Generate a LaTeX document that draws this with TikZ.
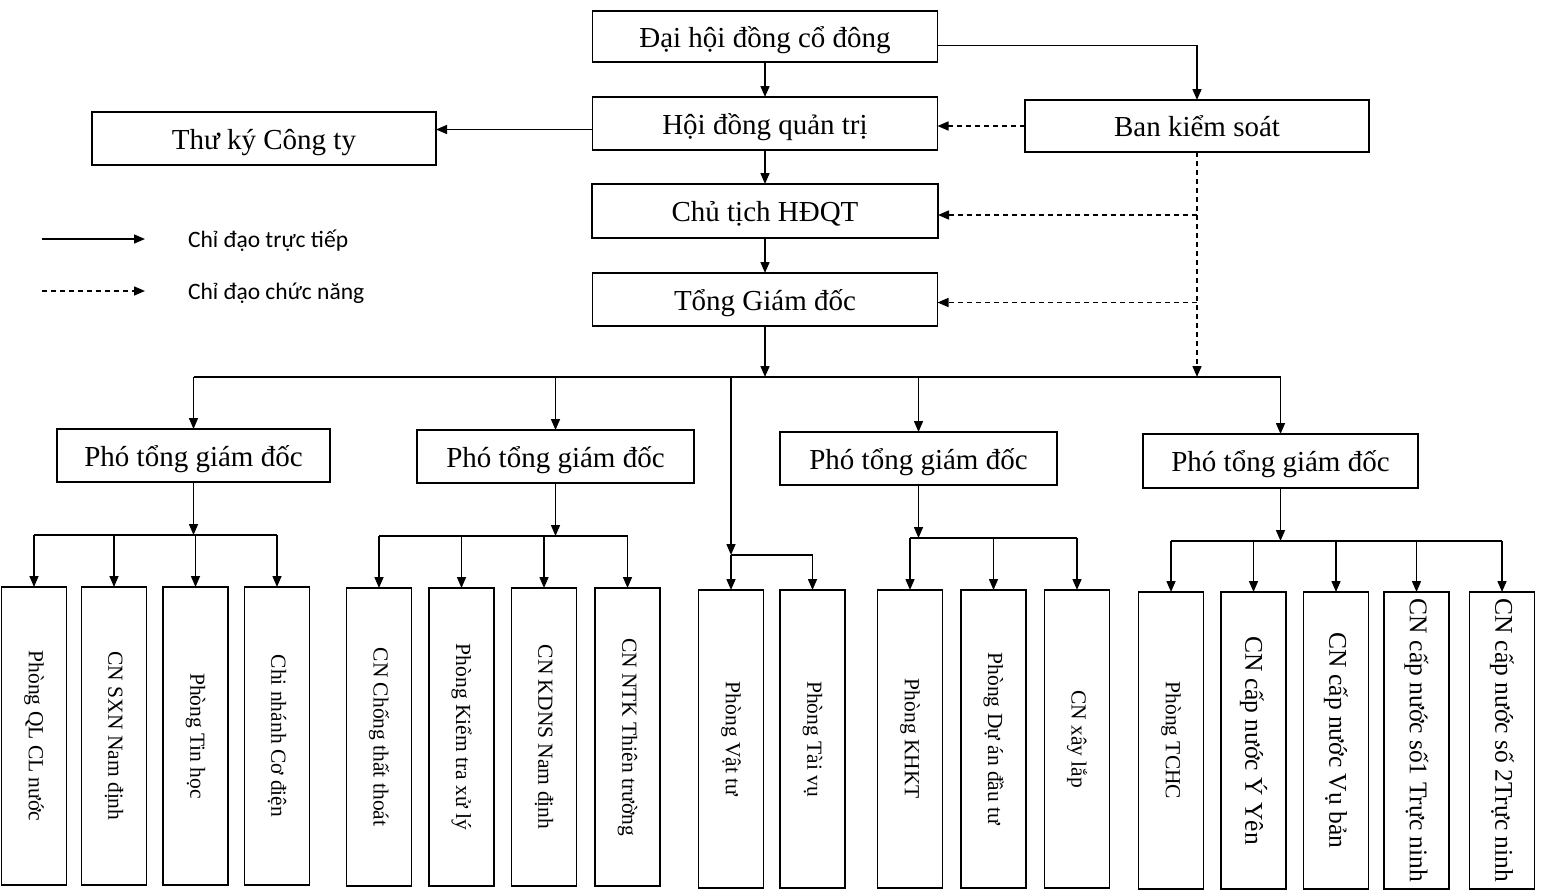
\documentclass[tikz,border=0pt]{standalone}
\usepackage{fontspec}
\usepackage{graphicx}
\setmainfont{Liberation Serif}
\newfontfamily\legendfont{Carlito}
\usetikzlibrary{arrows.meta}
\begin{document}
\begin{tikzpicture}[x=1pt,y=-1pt,
  every node/.style={inner sep=0pt, outer sep=0pt},
  hbox/.style={draw, line width=1.5pt, minimum height=53pt, text height=27pt, text depth=6pt, font=\fontsize{29}{33}\selectfont},
  vbox/.style={draw, line width=1.5pt, minimum width=65pt, minimum height=298pt, font=\fontsize{21.5}{25}\selectfont},
  bigv/.style={font=\fontsize{25.5}{29}\selectfont},
  conn/.style={line width=1.5pt},
  arr/.style={conn, -{Triangle[length=11pt,width=9pt]}},
  darr/.style={arr, dash pattern=on 5pt off 4pt},
  legtext/.style={anchor=west, font=\legendfont\fontsize{23.5}{28}\selectfont},
]
\useasboundingbox (0,0) rectangle (1553,895);

% top boxes
\node[hbox, minimum width=345pt, minimum height=51pt] (dh) at (765,36.5) {Đại hội đồng cổ đông};
\node[hbox, minimum width=345pt] (hdqt) at (765,123.5) {Hội đồng quản trị};
\node[hbox, minimum width=344pt] (tk) at (264,138.5) {Thư ký Công ty};
\node[hbox, minimum width=344pt, minimum height=52pt] (bks) at (1197,126) {Ban kiểm soát};
\node[hbox, minimum width=346pt, minimum height=54pt] (ct) at (765,211) {Chủ tịch HĐQT};
\node[hbox, minimum width=345pt] (tgd) at (765,299.5) {Tổng Giám đốc};

% deputy boxes
\node[hbox, minimum width=273pt] (p1) at (193.5,455.5) {Phó tổng giám đốc};
\node[hbox, minimum width=277pt] (p2) at (555.5,456.5) {Phó tổng giám đốc};
\node[hbox, minimum width=277pt] (p3) at (918.5,458.5) {Phó tổng giám đốc};
\node[hbox, minimum width=275pt, minimum height=54pt] (p4) at (1280.5,461) {Phó tổng giám đốc};

% bottom boxes
\node[vbox] (a1) at (34,736) {\rotatebox{-90}{Phòng QL CL nước}};
\node[vbox] (a2) at (114,736) {\rotatebox{-90}{CN SXN Nam định}};
\node[vbox] (a3) at (195.5,736) {\rotatebox{-90}{Phòng Tin học}};
\node[vbox] (a4) at (277,736) {\rotatebox{-90}{Chi nhánh Cơ điện}};

\node[vbox] (b1) at (379,737) {\rotatebox{-90}{CN Chống thất thoát}};
\node[vbox] (b2) at (461.5,737) {\rotatebox{-90}{Phòng Kiểm tra xử lý}};
\node[vbox] (b3) at (544,737) {\rotatebox{-90}{CN KDNS Nam định}};
\node[vbox] (b4) at (627.5,737) {\rotatebox{-90}{CN NTK Thiên trường}};

\node[vbox] (vt) at (731,739) {\rotatebox{-90}{Phòng Vật tư}};
\node[vbox] (tv) at (812.5,739) {\rotatebox{-90}{Phòng Tài vụ}};

\node[vbox] (c1) at (910,739) {\rotatebox{-90}{Phòng KHKT}};
\node[vbox] (c2) at (993.5,739) {\rotatebox{-90}{Phòng Dự án đầu tư}};
\node[vbox] (c3) at (1077,739) {\rotatebox{-90}{CN xây lắp}};

\node[vbox, minimum height=297pt] (d1) at (1171,740.5) {\rotatebox{-90}{Phòng TCHC}};
\node[vbox, bigv, minimum height=297pt] (d2) at (1253.5,740.5) {\rotatebox{-90}{CN cấp nước Ý Yên}};
\node[vbox, bigv, minimum height=297pt] (d3) at (1336,740.5) {\rotatebox{-90}{CN cấp nước Vụ bản}};
\node[vbox, bigv, minimum height=297pt] (d4) at (1416.5,740.5) {\rotatebox{-90}{CN cấp nước số1 Trực ninh}};
\node[vbox, bigv, minimum height=297pt] (d5) at (1502,740.5) {\rotatebox{-90}{CN cấp nước số 2Trực ninh}};

% top connectors
\draw[arr] (dh) -- (hdqt);
\draw[arr] ([yshift=-9pt]dh.east) -| (bks.north);
\draw[arr] ([yshift=-6pt]hdqt.west) -- ([yshift=-6pt]hdqt.west -| tk.east);
\draw[darr] (bks.west) -- (bks.west -| hdqt.east);
\draw[arr] (hdqt) -- (ct);
\draw[arr] (ct) -- (tgd);

\coordinate (bus) at (0,377);
\draw[arr] (tgd.south) -- (tgd.south |- bus);
\draw[conn] (p1.north |- bus) -- (p4.north |- bus);
\foreach \p in {p1,p2,p3,p4} \draw[arr] (\p.north |- bus) -- (\p.north);
\draw[darr] (bks.south) -- (bks.south |- bus);
\draw[darr] ([yshift=-4pt]bks.south |- ct.east) -- ([yshift=-4pt]ct.east);
\draw[darr] ([yshift=-3pt]bks.south |- tgd.east) -- ([yshift=-3pt]tgd.east);

% Vat tu branch
\coordinate (vj) at (0,555);
\draw[arr] (vt.north |- bus) -- (vt.north |- vj);
\draw[arr] (vt.north |- vj) -- (vt.north);
\draw[arr] (vt.north |- vj) -| (tv.north);

% group buses
\coordinate (g1) at (0,535);
\draw[arr] (p1.south) -- (p1.south |- g1);
\draw[conn] (a1.north |- g1) -- (a4.north |- g1);
\foreach \b in {a1,a2,a3,a4} \draw[arr] (\b.north |- g1) -- (\b.north);

\coordinate (g2) at (0,536);
\draw[arr] (p2.south) -- (p2.south |- g2);
\draw[conn] (b1.north |- g2) -- (b4.north |- g2);
\foreach \b in {b1,b2,b3,b4} \draw[arr] (\b.north |- g2) -- (\b.north);

\coordinate (g3) at (0,538);
\draw[arr] (p3.south) -- (p3.south |- g3);
\draw[conn] (c1.north |- g3) -- (c3.north |- g3);
\foreach \b in {c1,c2,c3} \draw[arr] (\b.north |- g3) -- (\b.north);

\coordinate (g4) at (0,541);
\draw[arr] (p4.south) -- (p4.south |- g4);
\draw[conn] (d1.north |- g4) -- (d5.north |- g4);
\foreach \b in {d1,d2,d3,d4,d5} \draw[arr] (\b.north |- g4) -- (\b.north);

% legend
\coordinate (la1) at (42,239);
\coordinate (lb1) at (145,239);
\coordinate (la2) at (42,291);
\coordinate (lb2) at (145,291);
\draw[arr] (la1) -- (lb1);
\draw[darr] (la2) -- (lb2);
\node[legtext] (lt1) at (188,241) {Chỉ đạo trực tiếp};
\node[legtext] (lt2) at (188,293) {Chỉ đạo chức năng};
\end{tikzpicture}
\end{document}
